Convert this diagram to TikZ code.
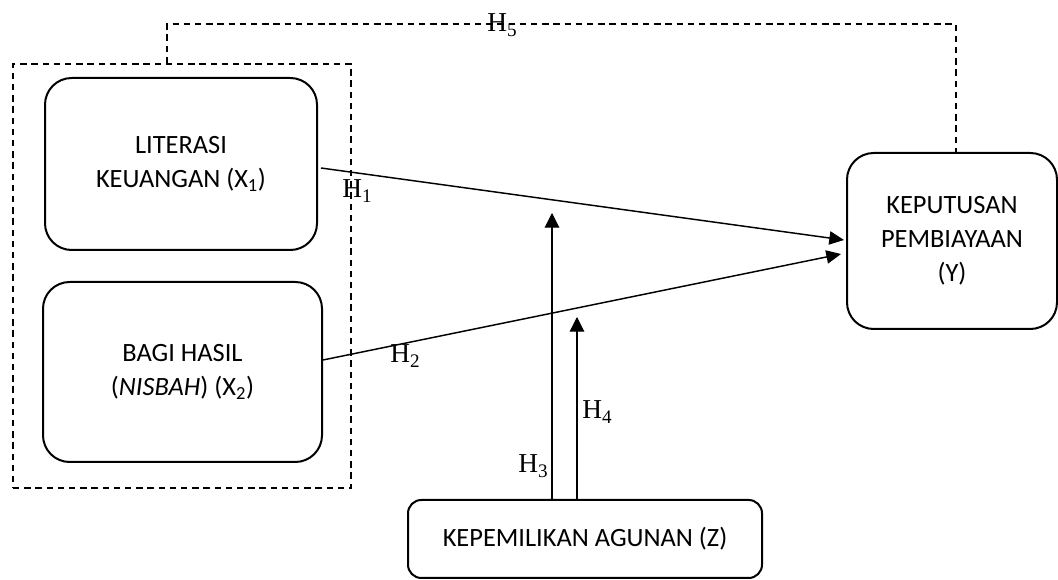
\documentclass[tikz,border=0pt]{standalone}
\usepackage{fontspec}
\setmainfont{Carlito}
\newfontfamily\hfont{Liberation Serif}
\usetikzlibrary{arrows.meta,calc}
\begin{document}
\begin{tikzpicture}[x=0.75pt,y=-0.75pt,
  box/.style={draw, line width=1.5pt, rounded corners=20pt, align=center, inner sep=0pt,
    font=\fontsize{19.8}{25.5}\selectfont},
  grp/.style={draw, dashed, dash pattern=on 4.8pt off 3.6pt, line width=1.1pt, inner sep=0pt},
  dline/.style={dashed, dash pattern=on 4.8pt off 3.6pt, line width=1.1pt},
  arr/.style={-{Triangle[length=11pt,width=10pt]}, line width=1.1pt},
  varr/.style={-{Triangle[length=11pt,width=11pt]}, line width=0.8pt},
  hyp/.style={font=\hfont\fontsize{20.5}{24}\selectfont, inner sep=0pt, anchor=base west}]
\useasboundingbox (0,0) rectangle (1058,580);
% group
\node[grp, minimum width=253.5pt, minimum height=318pt] (G) at (182,276) {};
% boxes
\node[box, minimum width=204pt, minimum height=129pt] (X1) at (181,164) {LITERASI\\KEUANGAN (X\textsubscript{1})};
\node[box, minimum width=209.25pt, minimum height=135pt] (X2) at (182.5,372) {BAGI HASIL\\(\textit{NISBAH}) (X\textsubscript{2})};
\node[box, minimum width=157.5pt, minimum height=132pt] (Y) at (952,241) {KEPUTUSAN\\PEMBIAYAAN\\(Y)};
\node[box, rounded corners=10pt, minimum width=265.5pt, minimum height=58.5pt] (Z) at (585,539) {KEPEMILIKAN AGUNAN (Z)};
% H5 dashed connector
\coordinate (h5l) at (167,24);
\coordinate (h5r) at (956,24);
\draw[dline] (h5l |- G.north) -- (h5l) -- (h5r) -- (h5r |- Y.north);
% main arrows
\draw[arr] ($(X1.east)+(3,4)$) -- ($(Y.west)+(-2,-1)$);
\draw[arr] ($(X2.east)+(0,-12)$) -- ($(Y.west)+(-5,13)$);
% moderation arrows
\coordinate (t3) at (552,213);
\coordinate (t4) at (577,317);
\draw[varr] (t3 |- Z.north) -- (t3);
\draw[varr] (t4 |- Z.north) -- (t4);
% labels
\node[hyp] (L1) at (342,198) {H\textsubscript{1}};
\node[hyp] (L2) at (390,363) {H\textsubscript{2}};
\node[hyp] (L3) at (518,473) {H\textsubscript{3}};
\node[hyp] (L4) at (582,419) {H\textsubscript{4}};
\node[hyp] (L5) at (487,32) {H\textsubscript{5}};
\end{tikzpicture}
\end{document}
